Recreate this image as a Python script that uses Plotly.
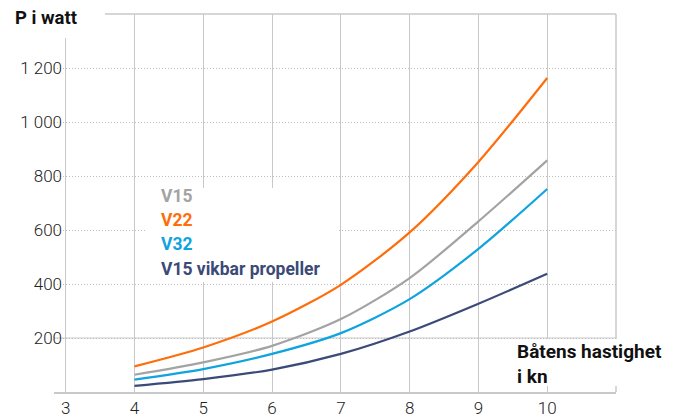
import plotly.graph_objects as go

# ---- data ----
speed_kn = [4, 5, 6, 7, 8, 9, 10]
v15 = [64, 110, 171, 270, 422, 632, 858]
v22 = [95, 165, 261, 397, 591, 852, 1163]
v32 = [46, 85, 141, 218, 344, 530, 752]
v15_vikbar = [23, 48, 83, 141, 224, 327, 438]

series_names = ["V15", "V22", "V32", "V15 vikbar propeller"]
series_values = [v15, v22, v32, v15_vikbar]
series_colors = ["#a3a3a3", "#ff6d0a", "#0fa3e0", "#3b4a78"]

x_ticks = [3, 4, 5, 6, 7, 8, 9, 10]
y_ticks = [200, 400, 600, 800, 1000, 1200]
y_tick_labels = ["200", "400", "600", "800", "1 000", "1 200"]

X_MIN, X_MAX = 2.83, 11
Y_MIN, Y_MAX = 0, 1400

W, H = 676, 418
ML, MR, MT, MB = 54, 60, 14, 26

def px(xp):
    return (xp - ML) / (W - ML - MR)

def py(yp):
    return 1 - (yp - MT) / (H - MT - MB)

GRID = "#c9c9c9"
FONT = "Roboto"

fig = go.Figure()
for name, vals, col in zip(series_names, series_values, series_colors):
    fig.add_trace(go.Scatter(x=speed_kn, y=vals, mode="lines", name=name,
                             line=dict(color=col, width=2.2, shape="spline", smoothing=0.8),
                             hoverinfo="x+y+name"))

shapes = []
# solid 200 line, top border, right border
shapes.append(dict(type="line", xref="x", yref="y", x0=X_MIN, x1=X_MAX, y0=200, y1=200,
                   line=dict(color=GRID, width=1.2), layer="below"))
shapes.append(dict(type="line", xref="paper", yref="paper", x0=0, x1=1, y0=1, y1=1,
                   line=dict(color=GRID, width=1.5), layer="above"))
shapes.append(dict(type="line", xref="paper", yref="paper", x0=1, x1=1, y0=0, y1=1,
                   line=dict(color=GRID, width=1.5), layer="above"))
# white boxes behind labels
shapes.append(dict(type="rect", xref="paper", yref="paper", x0=px(0), x1=px(105), y0=py(38), y1=py(0),
                   fillcolor="white", line=dict(width=0), layer="above"))
shapes.append(dict(type="rect", xref="paper", yref="paper", x0=px(145), x1=px(337), y0=py(282), y1=py(188),
                   fillcolor="white", line=dict(width=0), layer="above"))
shapes.append(dict(type="rect", xref="paper", yref="paper", x0=px(512), x1=px(676), y0=py(386), y1=py(339),
                   fillcolor="white", line=dict(width=0), layer="above"))

annotations = []
legend_y = [196, 220, 244, 269]
for name, col, yy in zip(series_names, series_colors, legend_y):
    annotations.append(dict(text=f"<b>{name}</b>", xref="paper", yref="paper", x=px(159), y=py(yy),
                            xanchor="left", yanchor="middle", showarrow=False,
                            font=dict(family=FONT, size=17.5, color=col)))
annotations.append(dict(text="<b>P i watt</b>", xref="paper", yref="paper", x=px(13), y=py(18),
                        xanchor="left", yanchor="middle", showarrow=False,
                        font=dict(family=FONT, size=18.5, color="#111111")))
annotations.append(dict(text="<b>Båtens hastighet<br>i kn</b>", xref="paper", yref="paper",
                        x=px(516), y=py(364), xanchor="left", yanchor="middle", align="left",
                        borderpad=0, showarrow=False, font=dict(family=FONT, size=19, color="#111111")))

fig.update_layout(
    width=W, height=H,
    margin=dict(l=ML, r=MR, t=MT, b=MB, pad=0, autoexpand=False),
    paper_bgcolor="white", plot_bgcolor="white",
    showlegend=False,
    shapes=shapes, annotations=annotations,
    font=dict(family=FONT, size=17, color="#222222"),
    xaxis=dict(range=[X_MIN, X_MAX], tickvals=x_ticks, showgrid=True, gridcolor=GRID, gridwidth=1.2,
               showline=True, linecolor=GRID, linewidth=2, zeroline=False, ticks="", automargin=False,
               tickfont=dict(family=FONT, size=17, color="#222222", weight=300), fixedrange=True),
    yaxis=dict(range=[Y_MIN, Y_MAX], tickvals=y_ticks, ticktext=y_tick_labels, showgrid=True,
               gridcolor="#bdbdbd", gridwidth=1, griddash="1px,2px", showline=False, zeroline=False,
               ticks="", ticklen=0, automargin=False, ticklabelstandoff=-9,
               tickfont=dict(family=FONT, size=17, color="#222222", weight=300), fixedrange=True),
)

fig.write_html("out.html", config={"displayModeBar": False},
               post_script="document.body.style.margin='0';")
